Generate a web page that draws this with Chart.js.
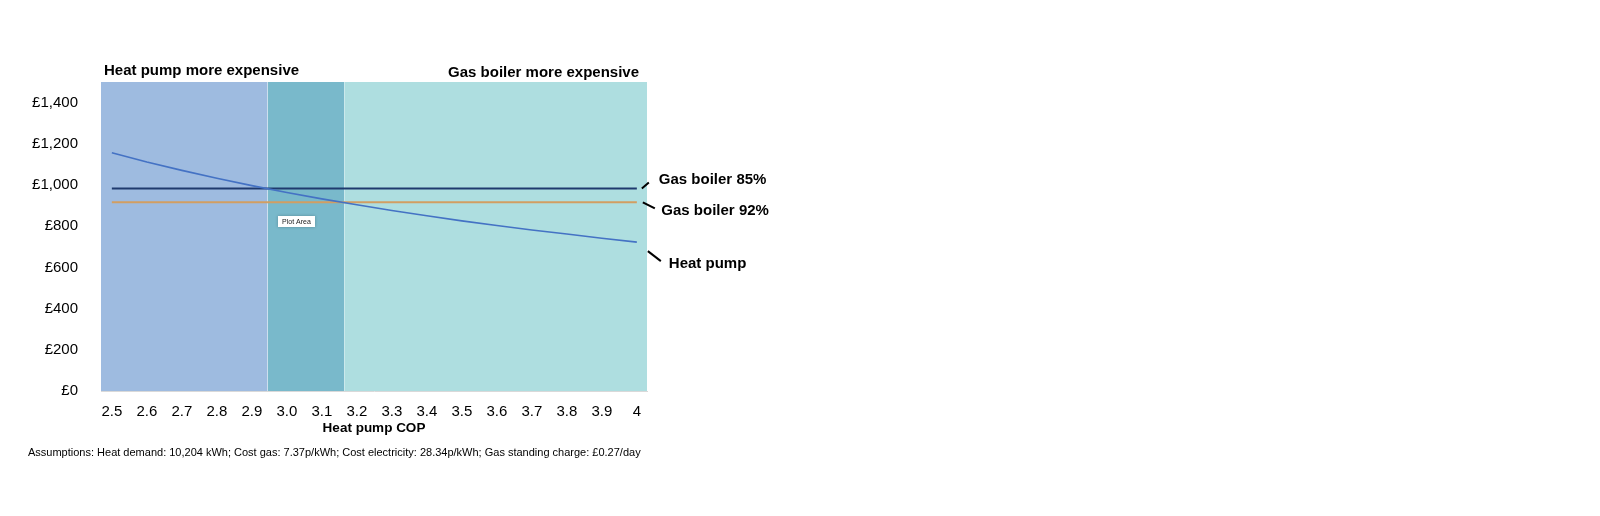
<!DOCTYPE html>
<html>
<head>
<meta charset="utf-8">
<script src="https://cdn.jsdelivr.net/npm/chart.js@4"></script>
<style>
  html, body { margin: 0; padding: 0; background: #fff; }
  #wrap { width: 1600px; height: 516px; }
</style>
</head>
<body>
<div id="wrap"><canvas id="chart" width="1600" height="516"></canvas></div>
<script>
// Heat pump COP on the x axis
const copTicks = [2.5, 2.6, 2.7, 2.8, 2.9, 3.0, 3.1, 3.2, 3.3, 3.4, 3.5, 3.6, 3.7, 3.8, 3.9, 4.0];
const copLabels = ['2.5', '2.6', '2.7', '2.8', '2.9', '3.0', '3.1', '3.2', '3.3', '3.4', '3.5', '3.6', '3.7', '3.8', '3.9', '4'];

// Annual running cost (£)
const heatPumpCost = [1157, 1112, 1071, 1033, 997, 964, 933, 904, 876, 851, 826, 804, 782, 762, 742, 723];
const gasLineCop = [2.5, 4.0];
const gas85Cost = [983, 983];
const gas92Cost = [916, 916];

// Shaded regions (COP where the cheaper option changes)
const bandEdges = [2.469, 2.945, 3.164, 4.029];
const bandColours = ['#9EBBE0', '#79B9CB', '#AEDEE0'];

const yTicks = [0, 200, 400, 600, 800, 1000, 1200, 1400];
const yMax = 1500;

const FONT = 'Liberation Sans, Arial, Helvetica, sans-serif';

function pts(xs, ys) {
    return xs.map((x, i) => ({ x: x, y: ys[i] }));
}

// band datasets, drawn behind the lines
const bandSets = bandColours.map((c, i) => ({
    label: 'band' + i,
    data: [{ x: bandEdges[i], y: yMax }, { x: bandEdges[i + 1], y: yMax }],
    borderWidth: 0,
    pointRadius: 0,
    backgroundColor: c,
    fill: 'origin',
    order: 10
}));

// labels, headers and the little "Plot Area" box
const annotations = {
    id: 'annotations',
    afterDatasetsDraw(chart) {
        const ctx = chart.ctx;
        const x = chart.scales.x, y = chart.scales.y;
        const area = chart.chartArea;
        ctx.save();

        // headers above the plot
        ctx.fillStyle = '#000';
        ctx.font = 'bold 15px ' + FONT;
        ctx.textBaseline = 'middle';
        ctx.textAlign = 'left';
        ctx.fillText('Heat pump more expensive', area.left + 3, area.top - 11);
        ctx.textAlign = 'right';
        ctx.fillText('Gas boiler more expensive', area.right - 8, area.top - 9);

        // series labels with leader lines
        const ends = [
            { text: 'Gas boiler 85%', v: gas85Cost[1], l: [5, 0, 12, -6], t: [22, -9] },
            { text: 'Gas boiler 92%', v: gas92Cost[1], l: [6, 0, 18, 6], t: [24.5, 8.5] },
            { text: 'Heat pump', v: heatPumpCost[heatPumpCost.length - 1], l: [11, 9, 24, 19], t: [32, 22] }
        ];
        const ex = x.getPixelForValue(copTicks[copTicks.length - 1]);
        ctx.strokeStyle = '#000';
        ctx.lineWidth = 2;
        ctx.textAlign = 'left';
        ends.forEach(e => {
            const ey = y.getPixelForValue(e.v);
            ctx.beginPath();
            ctx.moveTo(ex + e.l[0], ey + e.l[1]);
            ctx.lineTo(ex + e.l[2], ey + e.l[3]);
            ctx.stroke();
            ctx.fillText(e.text, ex + e.t[0], ey + e.t[1]);
        });

        // hover tooltip left in the screenshot
        const bx = 278, by = 216;
        ctx.shadowColor = 'rgba(0,0,0,0.25)';
        ctx.shadowBlur = 3;
        ctx.fillStyle = '#fff';
        ctx.fillRect(bx, by, 37, 11);
        ctx.shadowBlur = 0;
        ctx.fillStyle = '#222';
        ctx.font = '7px ' + FONT;
        ctx.textAlign = 'center';
        ctx.fillText('Plot Area', bx + 18.5, by + 5.8);
        ctx.restore();
    }
};

new Chart(document.getElementById('chart').getContext('2d'), {
    type: 'line',
    data: {
        datasets: [
            {
                label: 'Heat pump',
                data: pts(copTicks, heatPumpCost),
                borderColor: '#4472C4',
                borderWidth: 1.6,
                pointRadius: 0,
                fill: false,
                order: 1
            },
            {
                label: 'Gas boiler 85%',
                data: pts(gasLineCop, gas85Cost),
                borderColor: '#1F3A6E',
                borderWidth: 2,
                pointRadius: 0,
                fill: false,
                order: 2
            },
            {
                label: 'Gas boiler 92%',
                data: pts(gasLineCop, gas92Cost),
                borderColor: '#D29E62',
                borderWidth: 2,
                pointRadius: 0,
                fill: false,
                order: 3
            },
            ...bandSets
        ]
    },
    options: {
        responsive: false,
        animation: false,
        events: [],
        layout: { padding: { left: 28, top: 82, right: 953, bottom: 56.7 } },
        plugins: {
            legend: { display: false },
            tooltip: { enabled: false },
            subtitle: {
                display: true,
                position: 'bottom',
                align: 'start',
                text: 'Assumptions: Heat demand: 10,204 kWh; Cost gas: 7.37p/kWh; Cost electricity: 28.34p/kWh; Gas standing charge: £0.27/day',
                color: '#000',
                font: { family: FONT, size: 11 },
                padding: { top: 10, bottom: 0 }
            }
        },
        scales: {
            x: {
                type: 'linear',
                min: bandEdges[0],
                max: bandEdges[bandEdges.length - 1],
                afterBuildTicks: s => { s.ticks = copTicks.map(v => ({ value: v })); },
                afterFit: s => { s.height = 45; },
                grid: { display: false, drawTicks: false },
                border: { display: true, color: '#D9D9D9', width: 1 },
                ticks: {
                    padding: 12,
                    color: '#000',
                    font: { family: FONT, size: 15 },
                    maxRotation: 0,
                    callback: (v, i) => copLabels[i]
                },
                title: {
                    display: true,
                    text: 'Heat pump COP',
                    color: '#000',
                    font: { family: FONT, size: 13.5, weight: 'bold' },
                    padding: { top: 0, bottom: 0 }
                }
            },
            y: {
                min: 0,
                max: yMax,
                afterBuildTicks: s => { s.ticks = yTicks.map(v => ({ value: v })); },
                afterFit: s => { s.width = 73; },
                grid: { display: false, drawTicks: false },
                border: { display: false },
                ticks: {
                    padding: 23,
                    color: '#000',
                    font: { family: FONT, size: 15 },
                    callback: v => '£' + v.toLocaleString('en-GB')
                }
            }
        }
    },
    plugins: [annotations]
});
</script>
</body>
</html>
